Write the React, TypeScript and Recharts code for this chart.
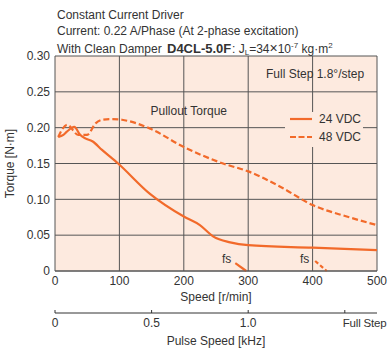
import React from "react";
import { ComposedChart, Line, XAxis, YAxis, CartesianGrid, Legend } from "recharts";

// speed [r/min] vs pullout torque [N·m]
const speed24 = [5, 13, 18, 30, 39, 47, 58, 73, 98, 147, 200, 225, 246, 272, 300, 400, 500];
const torque24 = [0.187, 0.19, 0.194, 0.201, 0.19, 0.185, 0.181, 0.169, 0.15, 0.108, 0.076, 0.064, 0.048, 0.04, 0.036, 0.0325, 0.029];

const speed48 = [5, 19, 36, 50, 63, 73, 88, 104, 147, 200, 261, 300, 349, 400, 453, 500];
const torque48 = [0.187, 0.204, 0.19, 0.19, 0.206, 0.211, 0.212, 0.211, 0.199, 0.173, 0.15, 0.139, 0.118, 0.092, 0.076, 0.064];

// fs (max starting frequency) markers
const fsSpeed24 = [280, 297];
const fsTorque24 = [0.011, 0];
const fsSpeed48 = [404, 422];
const fsTorque48 = [0.014, 0];

const speedTicks = [0, 100, 200, 300, 400, 500];
const torqueTicks = [0, 0.05, 0.1, 0.15, 0.2, 0.25, 0.3];
const pulseTicks = [0, 0.5, 1.0, 1.5];
const pulseLabels = ["0", "0.5", "1.0", "Full Step"];

// full step 1.8°/step: 200 pulses per rev -> kHz = r/min / 300
const toRows = (xs: number[], ys: number[]) => xs.map((s, i) => ({ speed: s, khz: s / 300, torque: ys[i] }));
const rows24 = toRows(speed24, torque24);
const rows48 = toRows(speed48, torque48);
const rowsFs24 = toRows(fsSpeed24, fsTorque24);
const rowsFs48 = toRows(fsSpeed48, fsTorque48);

const ORANGE = "#f26a2a";
const BG = "#fdeadf";
const GRID = "#555";
const TEXT = "#333";
const FONT = "'Liberation Sans', Arial, sans-serif";

const LegendBox = (props: any) => {
  const items = (props.payload || []).filter((p: any) => p.type !== "none");
  return (
    <svg width={78} height={35} style={{ display: "block", background: BG }}>
      {items.map((it: any, i: number) => (
        <g key={it.value}>
          <line x1={5} x2={27} y1={7 + i * 18} y2={7 + i * 18} stroke={ORANGE} strokeWidth={2.2}
            strokeDasharray={i === 1 ? "6 2.5" : undefined} />
          <text x={34} y={11 + i * 18} fontSize={12} fill={TEXT} fontFamily={FONT}>{it.value}</text>
        </g>
      ))}
    </svg>
  );
};

const PulseTick = (props: any) => {
  const { x, y, payload, index } = props;
  const last = index === pulseTicks.length - 1;
  return (
    <text x={last ? x - 2 : x} y={y} textAnchor={last ? "start" : "middle"} fontSize={last ? 11.5 : 12}
      letterSpacing={last ? -0.2 : 0} fill={TEXT} fontFamily={FONT}>
      {pulseLabels[index] ?? payload.value}
    </text>
  );
};

export default function App() {
  return (
    <div style={{ position: "absolute", left: 0, top: 0, fontFamily: FONT }}>
      <ComposedChart width={388} height={349} margin={{ top: 56, right: 11, bottom: 0, left: 0 }}>
        <CartesianGrid stroke={GRID} fill={BG} fillOpacity={1} />
        <XAxis dataKey="speed" type="number" domain={[0, 500]} ticks={speedTicks} height={42}
          tickLine={false} tickSize={0} tickMargin={5} axisLine={{ stroke: GRID }}
          tick={{ fontSize: 12, fill: TEXT }}
          label={{ value: "Speed [r/min]", position: "insideBottom", offset: 12, fontSize: 12, fill: TEXT }} />
        <XAxis xAxisId="pulse" dataKey="khz" type="number" domain={[0, 500 / 300]} ticks={pulseTicks} height={36}
          tickSize={-3} tickMargin={17} tick={<PulseTick />} tickLine={{ stroke: TEXT }}
          axisLine={{ stroke: TEXT }} allowDataOverflow interval={0}
          label={{ value: "Pulse Speed [kHz]", position: "insideBottom", offset: 4, fontSize: 12, fill: TEXT }} />
        <YAxis type="number" domain={[0, 0.3]} ticks={torqueTicks} width={55} axisLine={false}
          tickLine={false} tickSize={0} tickMargin={5} tick={{ fontSize: 12, fill: TEXT }}
          tickFormatter={(v: number) => (v === 0 ? "0" : v.toFixed(2))}
          label={{ value: "Torque [N·m]", angle: -90, position: "insideLeft", offset: 10, fontSize: 12, fill: TEXT, style: { textAnchor: "middle" } }} />
        <Legend layout="horizontal" verticalAlign="middle" align="center" content={<LegendBox />}
          wrapperStyle={{ left: 285, top: 112, width: 78, height: 35 }} />
        <Line name="24 VDC" data={rows24} dataKey="torque" type="monotone" stroke={ORANGE} strokeWidth={2.2}
          dot={false} isAnimationActive={false} />
        <Line name="48 VDC" data={rows48} dataKey="torque" type="monotone" stroke={ORANGE} strokeWidth={2.2}
          strokeDasharray="6 3" dot={false} isAnimationActive={false} />
        <Line name="fs24" data={rowsFs24} dataKey="torque" type="linear" stroke={ORANGE} strokeWidth={2.2}
          dot={false} legendType="none" isAnimationActive={false} />
        <Line name="fs48" data={rowsFs48} dataKey="torque" type="linear" stroke={ORANGE} strokeWidth={2.2}
          strokeDasharray="4 2.5" dot={false} legendType="none" isAnimationActive={false} />
        {/* same 24 VDC data on the pulse-speed axis, not drawn; gives that axis its scale */}
        <Line name="pulse" xAxisId="pulse" data={rows24} dataKey="torque" stroke="none" dot={false}
          legendType="none" isAnimationActive={false} />

        <text x={57} y={18.5} fontSize={12} fill={TEXT} fontFamily={FONT}>Constant Current Driver</text>
        <text x={57} y={35} fontSize={12} fill={TEXT} fontFamily={FONT}>Current: 0.22 A/Phase (At 2-phase excitation)</text>
        <text x={57} y={52.5} fontSize={12} fill={TEXT} fontFamily={FONT}>
          <tspan>With Clean Damper</tspan>
          <tspan x={167} fontWeight="bold" fontSize={13}>D4CL-5.0F</tspan>
          <tspan x={232}>: J</tspan>
          <tspan fontSize={8} dy={2}>L</tspan>
          <tspan dy={-2}>=34</tspan>
          <tspan fontSize={14}>×</tspan>
          <tspan>10</tspan>
          <tspan fontSize={8} dy={-5}>-7</tspan>
          <tspan dy={5}> kg·m</tspan>
          <tspan fontSize={8} dy={-5}>2</tspan>
        </text>
        <text x={266} y={78} fontSize={12} fill={TEXT} fontFamily={FONT}>Full Step 1.8°/step</text>
        <text x={150.5} y={115} fontSize={12} fill={TEXT} fontFamily={FONT}>Pullout Torque</text>
        <text x={222} y={263} fontSize={12} fill={TEXT} fontFamily={FONT}>fs</text>
        <text x={300} y={263} fontSize={12} fill={TEXT} fontFamily={FONT}>fs</text>
      </ComposedChart>
    </div>
  );
}
